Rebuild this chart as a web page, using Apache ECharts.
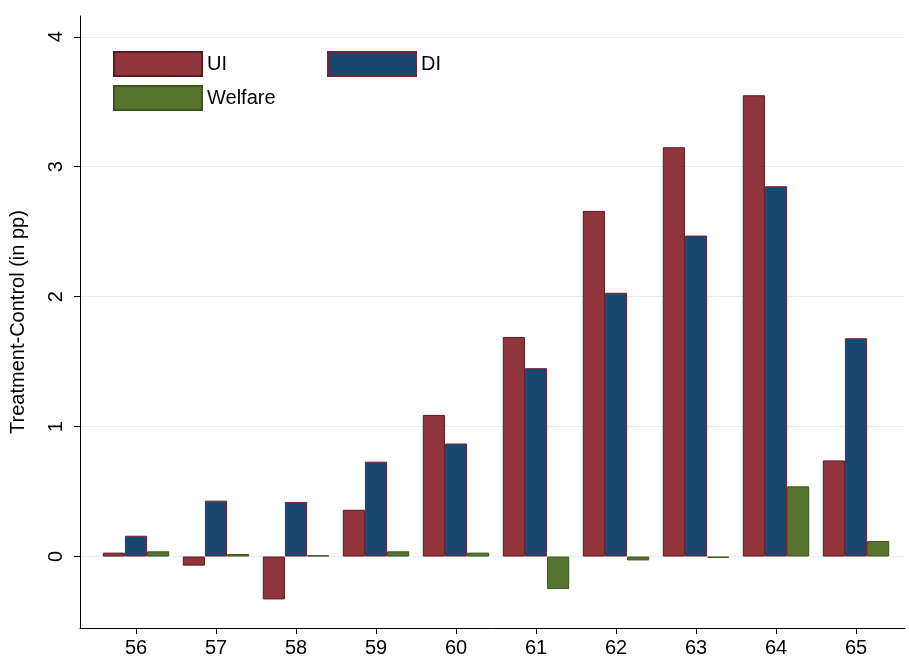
<!DOCTYPE html><html><head><meta charset="utf-8">
<script src="https://cdn.jsdelivr.net/npm/echarts@6/dist/echarts.min.js"></script>
<style>body{margin:0;background:#fff}#c{width:909px;height:660px}</style></head><body><div id="c"></div>
<script>
const ages=['56','57','58','59','60','61','62','63','64','65'];
const ui=[0.03,-0.07,-0.33,0.36,1.09,1.69,2.66,3.15,3.55,0.74];
const di=[0.16,0.43,0.42,0.73,0.87,1.45,2.03,2.47,2.85,1.68];
const welfare=[0.04,0.02,0.01,0.04,0.03,-0.25,-0.03,-0.01,0.54,0.12];
const yTicks=[0,1,2,3,4];
const ch=echarts.init(document.getElementById('c'));
const ts={fontFamily:'Liberation Sans, Arial',fontSize:20,color:'#000'};
const yMin=-0.55,yMax=4.16;
ch.setOption({
 animation:false,
 grid:[{left:75,right:4,top:16,bottom:32},{left:96,right:13,top:16,bottom:32}],
 legend:[{data:['UI','DI'],left:108,top:46,itemWidth:88,itemHeight:24,itemGap:100,textStyle:ts,icon:'rect'},
         {data:['Welfare'],left:108,top:80,itemWidth:88,itemHeight:24,textStyle:ts,icon:'rect'}],
 xAxis:[{type:'value',gridIndex:0,min:0,max:1,axisLine:{show:true,onZero:false,lineStyle:{color:'#000'}},axisTick:{show:false},axisLabel:{show:false},splitLine:{show:false}},
   {type:'category',gridIndex:1,data:ages,axisLine:{show:false,onZero:false},axisTick:{show:true,alignWithLabel:true,length:6,lineStyle:{color:'#000'}},axisLabel:{...ts,margin:10}}],
 yAxis:[{type:'value',gridIndex:0,min:yMin,max:yMax,name:'Treatment-Control (in pp)',nameLocation:'middle',nameGap:52,nameTextStyle:ts,
  axisLine:{show:true,lineStyle:{color:'#000'}},axisTick:{show:true,length:6,customValues:yTicks,lineStyle:{color:'#000'}},
  axisLabel:{...ts,rotate:90,margin:14,customValues:yTicks},splitLine:{show:false}},
  {type:'value',gridIndex:1,min:yMin,max:yMax,show:false,splitLine:{show:false}}],
 series:[
  {type:'line',xAxisIndex:0,yAxisIndex:0,data:[],z:0,zlevel:0,
   markLine:{silent:true,symbol:'none',z:0,label:{show:false},lineStyle:{color:'#e6ecef',type:'solid',width:1},data:yTicks.map(v=>({yAxis:v}))}},
  {name:'UI',type:'bar',z:10,xAxisIndex:1,yAxisIndex:1,data:ui,barGap:'0%',barCategoryGap:'17%',itemStyle:{color:'#90353B',borderColor:'#5a1a20',borderWidth:1}},
  {name:'DI',type:'bar',z:10,xAxisIndex:1,yAxisIndex:1,data:di,itemStyle:{color:'#1A476F',borderColor:'#7a2030',borderWidth:1}},
  {name:'Welfare',type:'bar',z:10,xAxisIndex:1,yAxisIndex:1,data:welfare,itemStyle:{color:'#55752F',borderColor:'#3d5520',borderWidth:1}}
 ]
});
</script></body></html>
